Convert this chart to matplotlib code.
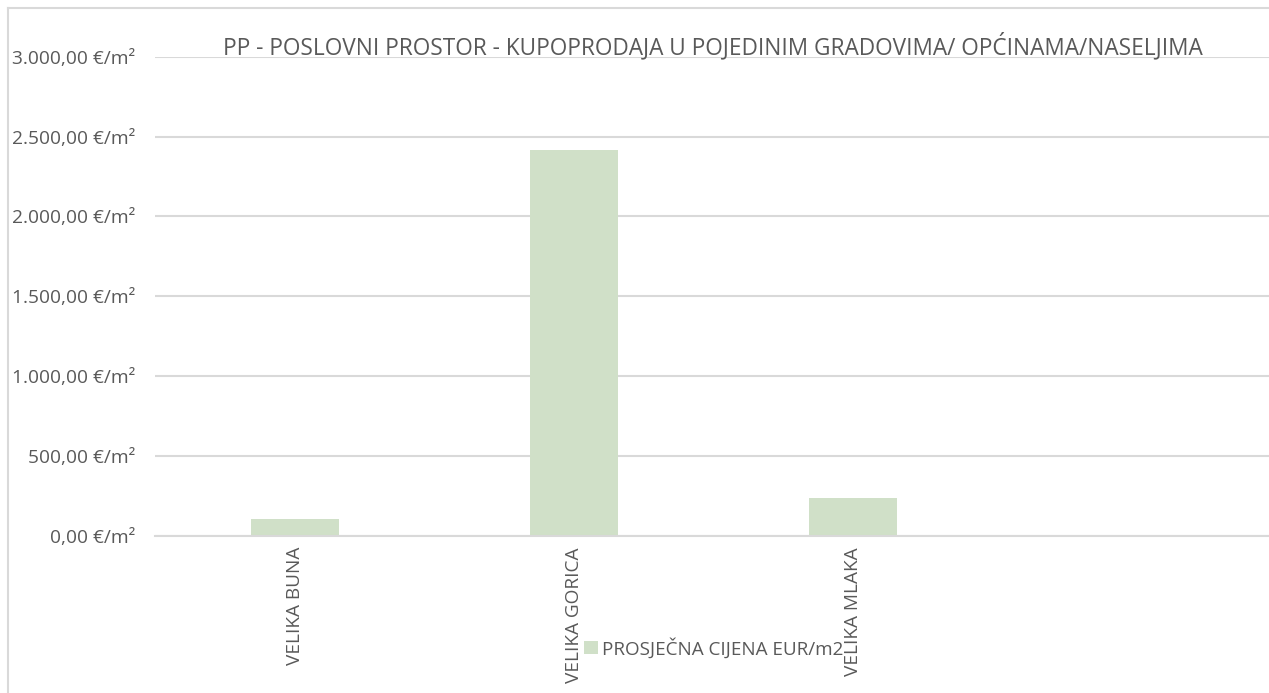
import matplotlib
matplotlib.use("Agg")
import matplotlib.pyplot as plt
from matplotlib.lines import Line2D
from matplotlib.ticker import FuncFormatter, MultipleLocator

# data
categories = ["VELIKA BUNA", "VELIKA GORICA", "VELIKA MLAKA", ""]
prices = [106, 2415, 239, 0]
series_name = "PROSJEČNA CIJENA EUR/m2"
title = "PP - POSLOVNI PROSTOR - KUPOPRODAJA U POJEDINIM GRADOVIMA/ OPĆINAMA/NASELJIMA"

W, H = 1269, 693
text_col = "#595959"
grid_col = "#d9d9d9"
bar_col = "#d0e0c8"

plt.rcParams["font.family"] = ["Open Sans", "DejaVu Sans"]


def eur_fmt(v, pos):
    s = f"{v:,.2f}".replace(",", "X").replace(".", ",").replace("X", ".")
    return f"{s} €/m²"


fig = plt.figure(figsize=(W / 100, H / 100), dpi=100)
fig.patch.set_facecolor("white")

# chart border, cut off at right and bottom in the source
bx, by = 7.5 / W, 1 - 8 / H
fig.add_artist(Line2D([bx, bx], [0, by], transform=fig.transFigure,
                      color=grid_col, linewidth=1.5))
fig.add_artist(Line2D([bx, 1], [by, by], transform=fig.transFigure,
                      color=grid_col, linewidth=1.5))

left, right = 155 / W, 1272 / W
bottom, top = (H - 536) / H, (H - 56.7) / H
ax = fig.add_axes([left, bottom, right - left, top - bottom])

x = list(range(len(categories)))
ax.bar(x, prices, width=0.315, color=bar_col, label=series_name, zorder=2)

ax.set_xlim(-0.5, len(categories) - 0.5)
ax.set_ylim(0, 3000)
ax.yaxis.set_major_locator(MultipleLocator(500))
ax.yaxis.set_major_formatter(FuncFormatter(eur_fmt))
ax.grid(axis="y", color=grid_col, linewidth=1.5, zorder=0)
ax.set_axisbelow(True)

for side in ["top", "right", "left"]:
    ax.spines[side].set_visible(False)
ax.spines["bottom"].set_color(grid_col)
ax.spines["bottom"].set_linewidth(1.5)

ax.set_xticks(x)
ax.set_xticklabels(categories, rotation=90, fontsize=13.7, color=text_col)
ax.tick_params(axis="x", length=0, pad=8)
ax.tick_params(axis="y", length=0, pad=14, labelsize=13.8, labelcolor=text_col)

fig.text(713 / W, 1 - 47 / H, title, ha="center", va="center",
         fontsize=16.3, color=text_col)

fig.legend(loc="center", bbox_to_anchor=(714 / W, 1 - 648 / H),
           frameon=False, fontsize=13.6, labelcolor=text_col,
           handlelength=0.7, handleheight=0.7, handletextpad=0.25)

fig.savefig("out.png", dpi=100)
